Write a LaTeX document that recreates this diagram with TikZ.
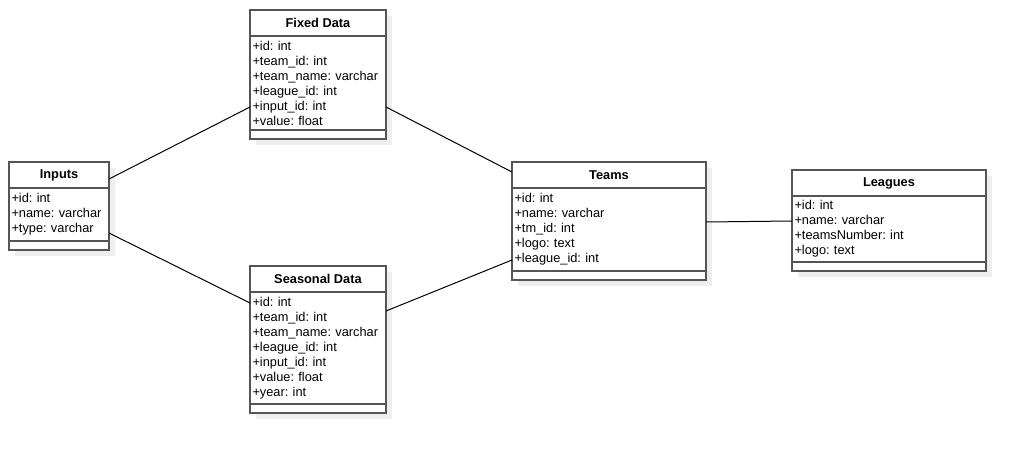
\documentclass[tikz,border=0pt]{standalone}
\usepackage{fontspec}
\setmainfont{Liberation Sans}
\frenchspacing
\hyphenpenalty=10000
\usepackage{tikz}
\usetikzlibrary{positioning,calc,backgrounds}
\definecolor{UmlLine}{HTML}{555555}
\definecolor{UmlShade}{HTML}{EEEEEE}
\def\px{0.75pt}
\tikzset{
  classhead/.style={draw=UmlLine,line width=1.1pt,fill=white,anchor=north west,minimum height=26*\px,inner sep=0pt,outer sep=0pt,font=\fontsize{9.6}{11.25}\selectfont\bfseries},
  classattr/.style={draw=UmlLine,line width=1.1pt,fill=white,align=left,anchor=north,inner xsep=2.5*\px,inner ysep=0pt,outer sep=0pt,font=\fontsize{9.6}{11.25}\selectfont},
  classmeth/.style={draw=UmlLine,line width=1.1pt,fill=white,anchor=north,minimum height=9*\px,inner sep=0pt,outer sep=0pt},
  classshade/.style={fill=UmlShade},
  assoc/.style={line width=0.75pt,draw=black}
}
\begin{document}
\begin{tikzpicture}[x=0.75pt,y=-0.75pt,node distance=0pt]
\useasboundingbox (0,0) rectangle (1026,453);
% Inputs
\node[classhead,minimum width=100*\px] (inHead) at (9,162) {Inputs};
\node[classattr,below=of inHead,text width=95*\px,minimum height=53*\px] (inAttr) {+id: int\\+name: varchar\\+type: varchar};
\node[classmeth,below=of inAttr,minimum width=100*\px] (inMeth) {};
% Fixed Data
\node[classhead,minimum width=136*\px] (fxHead) at (250,10) {Fixed Data};
\node[classattr,below=of fxHead,text width=131*\px,minimum height=94*\px] (fxAttr) {+id: int\\+team\_id: int\\+team\_name: varchar\\+league\_id: int\\+input\_id: int\\+value: float};
\node[classmeth,below=of fxAttr,minimum width=136*\px] (fxMeth) {};
% Seasonal Data
\node[classhead,minimum width=136*\px] (snHead) at (250,266) {Seasonal Data};
\node[classattr,below=of snHead,text width=131*\px,minimum height=112*\px] (snAttr) {+id: int\\+team\_id: int\\+team\_name: varchar\\+league\_id: int\\+input\_id: int\\+value: float\\+year: int};
\node[classmeth,below=of snAttr,minimum width=136*\px] (snMeth) {};
% Teams
\node[classhead,minimum width=194*\px] (tmHead) at (512,162) {Teams};
\node[classattr,below=of tmHead,text width=189*\px,minimum height=83*\px] (tmAttr) {+id: int\\+name: varchar\\+tm\_id: int\\+logo: text\\+league\_id: int};
\node[classmeth,below=of tmAttr,minimum width=194*\px] (tmMeth) {};
% Leagues
\node[classhead,minimum width=194*\px] (lgHead) at (792,170) {Leagues};
\node[classattr,below=of lgHead,text width=189*\px,minimum height=66*\px] (lgAttr) {+id: int\\+name: varchar\\+teamsNumber: int\\+logo: text};
\node[classmeth,below=of lgAttr,minimum width=194*\px] (lgMeth) {};

\begin{scope}[on background layer]
\foreach \cls in {in,fx,sn,tm,lg}
  \fill[classshade] ($(\cls Head.north west)+(6,6)$) rectangle ($(\cls Meth.south east)+(6,6)$);
\end{scope}

\draw[assoc] ($(inHead.south east)+(0,-9)$) -- ($(fxAttr.south west)+(0,-23)$);
\draw[assoc] ($(inAttr.south east)+(0,-8)$) -- ($(snAttr.north west)+(0,11)$);
\draw[assoc] ($(fxAttr.south east)+(0,-23)$) -- ($(tmHead.south west)+(0,-16)$);
\draw[assoc] ($(snAttr.north east)+(0,19)$) -- ($(tmAttr.south west)+(0,-11)$);
\draw[assoc] ($(tmAttr.north east)+(0,34)$) -- ($(lgAttr.north west)+(0,25)$);
\end{tikzpicture}
\end{document}
